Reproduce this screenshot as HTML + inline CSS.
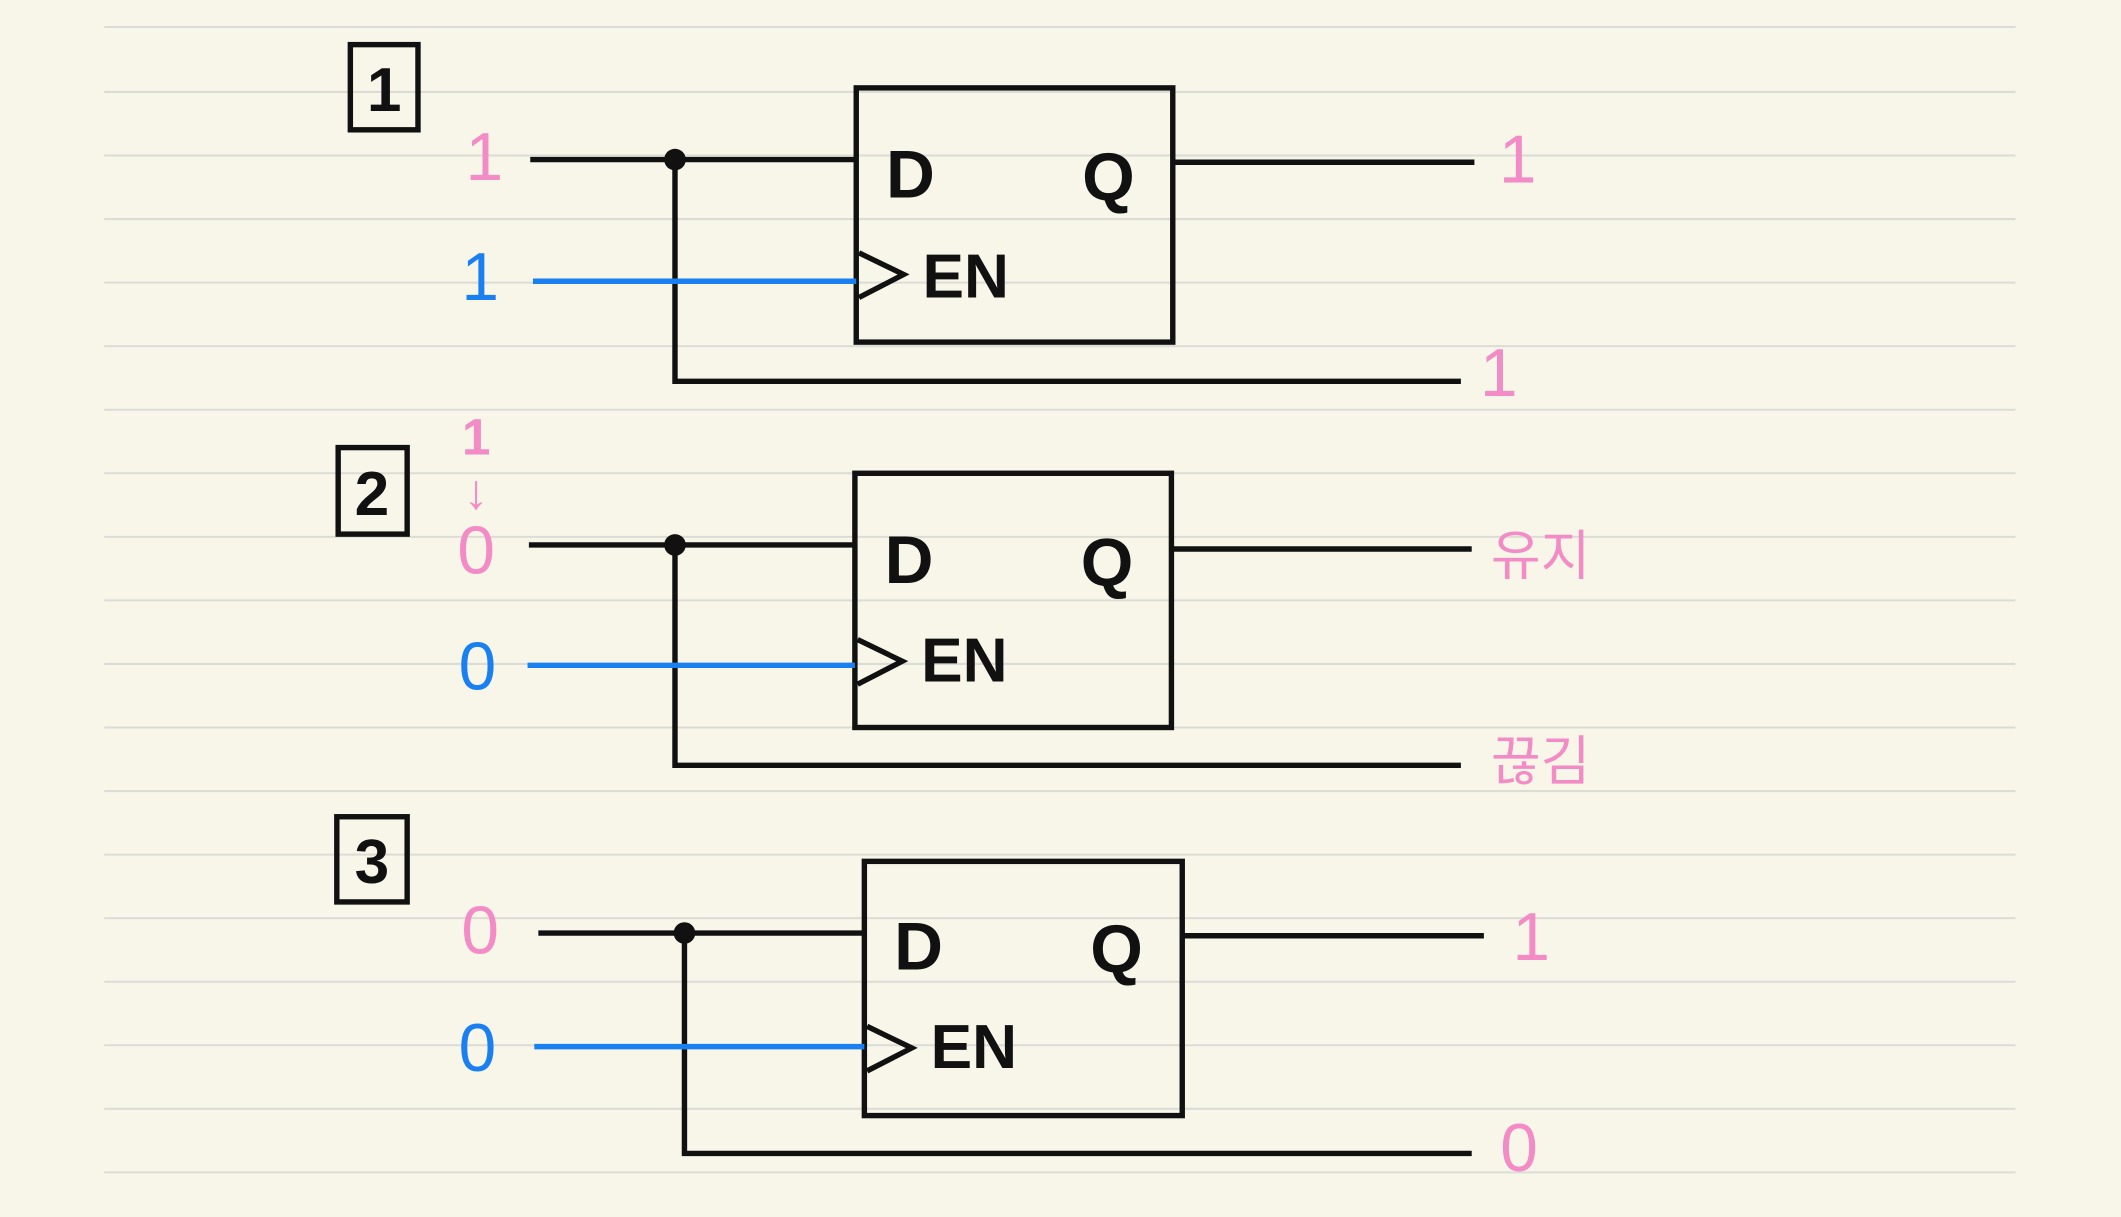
<!DOCTYPE html>
<html><head><meta charset="utf-8"><style>
html,body{margin:0;padding:0;background:#f8f6e8;}
svg{display:block;}
text{font-family:"Liberation Sans","Noto Sans CJK KR",sans-serif;}
</style></head><body>
<svg width="2121" height="1217" viewBox="0 0 1568 900" preserveAspectRatio="none" xmlns="http://www.w3.org/2000/svg">
<rect width="1568" height="900" fill="#f8f6e8"/>
<g stroke="#dcdcd6" stroke-width="1.5">
<line x1="77" y1="20" x2="1490" y2="20"/><line x1="77" y1="68" x2="1490" y2="68"/>
<line x1="77" y1="115" x2="1490" y2="115"/><line x1="77" y1="162" x2="1490" y2="162"/>
<line x1="77" y1="209" x2="1490" y2="209"/><line x1="77" y1="256" x2="1490" y2="256"/>
<line x1="77" y1="303" x2="1490" y2="303"/><line x1="77" y1="350" x2="1490" y2="350"/>
<line x1="77" y1="397" x2="1490" y2="397"/><line x1="77" y1="444" x2="1490" y2="444"/>
<line x1="77" y1="491" x2="1490" y2="491"/><line x1="77" y1="538" x2="1490" y2="538"/>
<line x1="77" y1="585" x2="1490" y2="585"/><line x1="77" y1="632" x2="1490" y2="632"/>
<line x1="77" y1="679" x2="1490" y2="679"/><line x1="77" y1="726" x2="1490" y2="726"/>
<line x1="77" y1="773" x2="1490" y2="773"/><line x1="77" y1="820" x2="1490" y2="820"/>
<line x1="77" y1="867" x2="1490" y2="867"/>
</g>
<g fill="none" stroke="#111" stroke-width="4">
<rect x="259" y="33" width="50" height="63"/>
<rect x="250" y="331" width="51" height="64"/>
<rect x="249" y="604" width="52" height="63"/>
<rect x="633" y="65" width="234" height="188"/>
<polyline points="392,118 633,118"/>
<polyline points="499,118 499,282 1080,282"/>
<polyline points="867,120 1090,120"/>
<polyline points="635,187 668,203 635,220"/>
<rect x="632" y="350" width="234" height="188"/>
<polyline points="391,403 632,403"/>
<polyline points="499,403 499,566 1080,566"/>
<polyline points="866,406 1088,406"/>
<polyline points="634,473 667,489 634,506"/>
<rect x="639" y="637" width="235" height="188"/>
<polyline points="398,690 639,690"/>
<polyline points="506,690 506,853 1088,853"/>
<polyline points="874,692 1097,692"/>
<polyline points="641,759 674,775 641,792"/>
</g>
<g stroke="#1a7ff0" stroke-width="4">
<line x1="394" y1="208" x2="633" y2="208"/>
<line x1="390" y1="492" x2="632" y2="492"/>
<line x1="395" y1="774" x2="639" y2="774"/>
</g>
<g fill="#111"><circle cx="499" cy="118" r="8"/><circle cx="499" cy="403" r="8"/><circle cx="506" cy="690" r="8"/></g>
<g fill="#111" font-size="50" font-weight="bold">
<text x="284" y="82" text-anchor="middle" font-size="46">1</text>
<text x="275" y="381" text-anchor="middle" font-size="46">2</text>
<text x="275" y="653" text-anchor="middle" font-size="46">3</text>
<text x="655" y="146">D</text><text x="800" y="148">Q</text><text x="682" y="220" font-size="46">EN</text>
<text x="654" y="431">D</text><text x="799" y="433">Q</text><text x="681" y="504" font-size="46">EN</text>
<text x="661" y="717">D</text><text x="806" y="719">Q</text><text x="688" y="790" font-size="46">EN</text>
</g>
<g fill="#f38cc6" font-size="50" text-anchor="middle">
<text x="358" y="133">1</text>
<text x="1122" y="135">1</text>
<text x="1108" y="293">1</text>
<text x="352" y="336" font-size="38" font-weight="bold">1</text>
<text x="352" y="376" font-size="36" font-weight="bold">↓</text>
<text x="352" y="424">0</text>
<text x="1139" y="425" font-size="40">유지</text>
<text x="1139" y="577" font-size="40">끊김</text>
<text x="355" y="705">0</text>
<text x="1132" y="710">1</text>
<text x="1123" y="866">0</text>
</g>
<g fill="#1a7ff0" font-size="50" text-anchor="middle">
<text x="355" y="222">1</text>
<text x="353" y="510">0</text>
<text x="353" y="792">0</text>
</g>
</svg>
</body></html>
